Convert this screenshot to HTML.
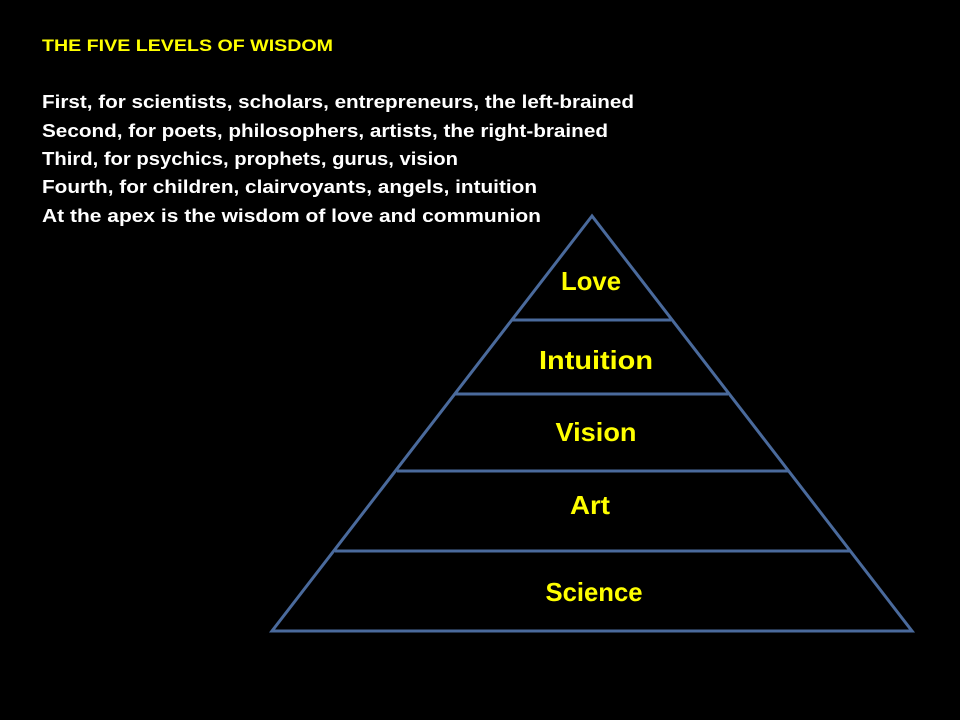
<!DOCTYPE html>
<html><head><meta charset="utf-8"><style>
html,body{margin:0;padding:0;background:#000;}
svg{display:block}
text{font-family:"Liberation Sans",sans-serif;font-weight:bold;}
</style></head><body>
<svg width="960" height="720" viewBox="0 0 960 720" xmlns="http://www.w3.org/2000/svg">
<rect width="960" height="720" fill="#000"/>
<g fill="#ffff00" font-size="17">
<text x="42" y="51" textLength="291" lengthAdjust="spacingAndGlyphs">THE FIVE LEVELS OF WISDOM</text>
</g>
<g fill="#ffffff" font-size="18">
<text x="42" y="108" textLength="592" lengthAdjust="spacingAndGlyphs">First, for scientists, scholars, entrepreneurs, the left-brained</text>
<text x="42" y="137" textLength="566" lengthAdjust="spacingAndGlyphs">Second, for poets, philosophers, artists, the right-brained</text>
<text x="42" y="165" textLength="416" lengthAdjust="spacingAndGlyphs">Third, for psychics, prophets, gurus, vision</text>
<text x="42" y="193" textLength="495" lengthAdjust="spacingAndGlyphs">Fourth, for children, clairvoyants, angels, intuition</text>
<text x="42" y="222" textLength="499" lengthAdjust="spacingAndGlyphs">At the apex is the wisdom of love and communion</text>
</g>
<g stroke="#4a6a9c" stroke-width="3" fill="none">
<polygon points="592,216 272,631 912,631"/>
<line x1="512" y1="320" x2="671" y2="320"/>
<line x1="455" y1="394" x2="728" y2="394"/>
<line x1="397" y1="471" x2="789" y2="471"/>
<line x1="335" y1="551" x2="851" y2="551"/>
</g>
<g fill="#ffff00" font-size="26" text-anchor="middle">
<text x="591" y="290" textLength="60" lengthAdjust="spacingAndGlyphs">Love</text>
<text x="596" y="369" textLength="114" lengthAdjust="spacingAndGlyphs">Intuition</text>
<text x="596" y="441" textLength="81" lengthAdjust="spacingAndGlyphs">Vision</text>
<text x="590" y="514" textLength="40" lengthAdjust="spacingAndGlyphs">Art</text>
<text x="594" y="601" textLength="97" lengthAdjust="spacingAndGlyphs">Science</text>
</g>
</svg>
</body></html>
